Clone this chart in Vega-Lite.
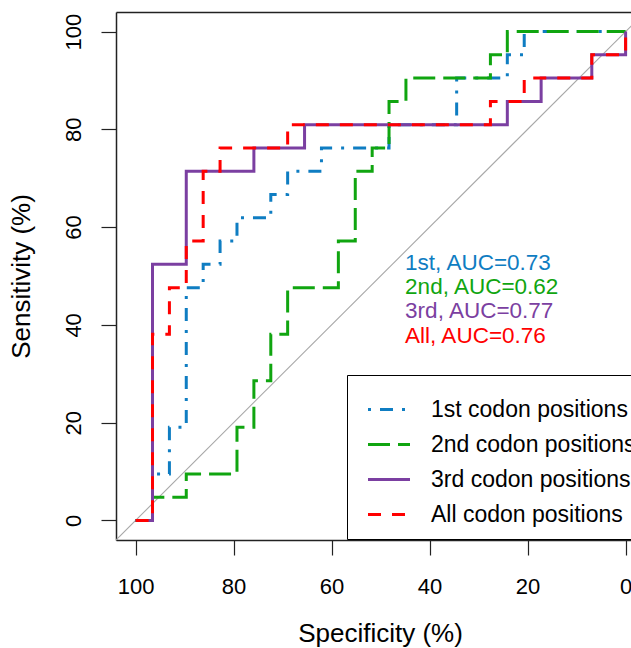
{
  "$schema": "https://vega.github.io/schema/vega-lite/v6.json",
  "width": 515,
  "height": 528,
  "autosize": "none",
  "padding": {"left": 116, "top": 12, "right": 0, "bottom": 108},
  "background": "white",
  "config": {
    "view": {"stroke": null},
    "font": "Liberation Sans",
    "axis": {
      "grid": false,
      "domainColor": "#222222",
      "domainWidth": 1.5,
      "tickColor": "#222222",
      "tickWidth": 1.2,
      "tickSize": 15,
      "labelFont": "Liberation Sans",
      "labelFontSize": 22,
      "labelColor": "black",
      "labelPadding": 21,
      "titleFont": "Liberation Sans",
      "titleFontSize": 26,
      "titleFontWeight": "normal",
      "titleColor": "black"
    }
  },
  "datasets": {
    "diag": [{"sp": 104, "se": -4}, {"sp": -4, "se": 104}],
    "auc": [
      {"s": "1st codon positions", "t": "1st, AUC=0.73", "x": 45, "y": 55},
      {"s": "2nd codon positions", "t": "2nd, AUC=0.62", "x": 45, "y": 50},
      {"s": "3rd codon positions", "t": "3rd, AUC=0.77", "x": 45, "y": 45},
      {"s": "All codon positions", "t": "All, AUC=0.76", "x": 45, "y": 40}
    ],
    "roc": [
      {"s": "1st codon positions", "i": 0, "sp": 100, "se": 0},
      {"s": "1st codon positions", "i": 1, "sp": 96.55, "se": 0},
      {"s": "1st codon positions", "i": 2, "sp": 96.55, "se": 9.52},
      {"s": "1st codon positions", "i": 3, "sp": 93.10, "se": 9.52},
      {"s": "1st codon positions", "i": 4, "sp": 93.10, "se": 19.05},
      {"s": "1st codon positions", "i": 5, "sp": 89.66, "se": 19.05},
      {"s": "1st codon positions", "i": 6, "sp": 89.66, "se": 47.62},
      {"s": "1st codon positions", "i": 7, "sp": 86.21, "se": 47.62},
      {"s": "1st codon positions", "i": 8, "sp": 86.21, "se": 52.38},
      {"s": "1st codon positions", "i": 9, "sp": 82.76, "se": 52.38},
      {"s": "1st codon positions", "i": 10, "sp": 82.76, "se": 57.14},
      {"s": "1st codon positions", "i": 11, "sp": 79.31, "se": 57.14},
      {"s": "1st codon positions", "i": 12, "sp": 79.31, "se": 61.90},
      {"s": "1st codon positions", "i": 13, "sp": 72.41, "se": 61.90},
      {"s": "1st codon positions", "i": 14, "sp": 72.41, "se": 66.67},
      {"s": "1st codon positions", "i": 15, "sp": 68.97, "se": 66.67},
      {"s": "1st codon positions", "i": 16, "sp": 68.97, "se": 71.43},
      {"s": "1st codon positions", "i": 17, "sp": 62.07, "se": 71.43},
      {"s": "1st codon positions", "i": 18, "sp": 62.07, "se": 76.19},
      {"s": "1st codon positions", "i": 19, "sp": 48.28, "se": 76.19},
      {"s": "1st codon positions", "i": 20, "sp": 48.28, "se": 80.95},
      {"s": "1st codon positions", "i": 21, "sp": 34.48, "se": 80.95},
      {"s": "1st codon positions", "i": 22, "sp": 34.48, "se": 90.48},
      {"s": "1st codon positions", "i": 23, "sp": 24.14, "se": 90.48},
      {"s": "1st codon positions", "i": 24, "sp": 24.14, "se": 95.24},
      {"s": "1st codon positions", "i": 25, "sp": 20.69, "se": 95.24},
      {"s": "1st codon positions", "i": 26, "sp": 20.69, "se": 100},
      {"s": "1st codon positions", "i": 27, "sp": 0, "se": 100},

      {"s": "2nd codon positions", "i": 0, "sp": 100, "se": 0},
      {"s": "2nd codon positions", "i": 1, "sp": 96.55, "se": 0},
      {"s": "2nd codon positions", "i": 2, "sp": 96.55, "se": 4.76},
      {"s": "2nd codon positions", "i": 3, "sp": 89.66, "se": 4.76},
      {"s": "2nd codon positions", "i": 4, "sp": 89.66, "se": 9.52},
      {"s": "2nd codon positions", "i": 5, "sp": 79.31, "se": 9.52},
      {"s": "2nd codon positions", "i": 6, "sp": 79.31, "se": 19.05},
      {"s": "2nd codon positions", "i": 7, "sp": 75.86, "se": 19.05},
      {"s": "2nd codon positions", "i": 8, "sp": 75.86, "se": 28.57},
      {"s": "2nd codon positions", "i": 9, "sp": 72.41, "se": 28.57},
      {"s": "2nd codon positions", "i": 10, "sp": 72.41, "se": 38.10},
      {"s": "2nd codon positions", "i": 11, "sp": 68.97, "se": 38.10},
      {"s": "2nd codon positions", "i": 12, "sp": 68.97, "se": 47.62},
      {"s": "2nd codon positions", "i": 13, "sp": 58.62, "se": 47.62},
      {"s": "2nd codon positions", "i": 14, "sp": 58.62, "se": 57.14},
      {"s": "2nd codon positions", "i": 15, "sp": 55.17, "se": 57.14},
      {"s": "2nd codon positions", "i": 16, "sp": 55.17, "se": 71.43},
      {"s": "2nd codon positions", "i": 17, "sp": 51.72, "se": 71.43},
      {"s": "2nd codon positions", "i": 18, "sp": 51.72, "se": 76.19},
      {"s": "2nd codon positions", "i": 19, "sp": 48.28, "se": 76.19},
      {"s": "2nd codon positions", "i": 20, "sp": 48.28, "se": 85.71},
      {"s": "2nd codon positions", "i": 21, "sp": 44.83, "se": 85.71},
      {"s": "2nd codon positions", "i": 22, "sp": 44.83, "se": 90.48},
      {"s": "2nd codon positions", "i": 23, "sp": 27.59, "se": 90.48},
      {"s": "2nd codon positions", "i": 24, "sp": 27.59, "se": 95.24},
      {"s": "2nd codon positions", "i": 25, "sp": 24.14, "se": 95.24},
      {"s": "2nd codon positions", "i": 26, "sp": 24.14, "se": 100},
      {"s": "2nd codon positions", "i": 27, "sp": 0, "se": 100},

      {"s": "3rd codon positions", "i": 0, "sp": 100, "se": 0},
      {"s": "3rd codon positions", "i": 1, "sp": 96.55, "se": 0},
      {"s": "3rd codon positions", "i": 2, "sp": 96.55, "se": 52.38},
      {"s": "3rd codon positions", "i": 3, "sp": 89.66, "se": 52.38},
      {"s": "3rd codon positions", "i": 4, "sp": 89.66, "se": 71.43},
      {"s": "3rd codon positions", "i": 5, "sp": 75.86, "se": 71.43},
      {"s": "3rd codon positions", "i": 6, "sp": 75.86, "se": 76.19},
      {"s": "3rd codon positions", "i": 7, "sp": 65.52, "se": 76.19},
      {"s": "3rd codon positions", "i": 8, "sp": 65.52, "se": 80.95},
      {"s": "3rd codon positions", "i": 9, "sp": 24.14, "se": 80.95},
      {"s": "3rd codon positions", "i": 10, "sp": 24.14, "se": 85.71},
      {"s": "3rd codon positions", "i": 11, "sp": 17.24, "se": 85.71},
      {"s": "3rd codon positions", "i": 12, "sp": 17.24, "se": 90.48},
      {"s": "3rd codon positions", "i": 13, "sp": 6.90, "se": 90.48},
      {"s": "3rd codon positions", "i": 14, "sp": 6.90, "se": 95.24},
      {"s": "3rd codon positions", "i": 15, "sp": 0, "se": 95.24},
      {"s": "3rd codon positions", "i": 16, "sp": 0, "se": 100},

      {"s": "All codon positions", "i": 0, "sp": 100, "se": 0},
      {"s": "All codon positions", "i": 1, "sp": 96.55, "se": 0},
      {"s": "All codon positions", "i": 2, "sp": 96.55, "se": 38.10},
      {"s": "All codon positions", "i": 3, "sp": 93.10, "se": 38.10},
      {"s": "All codon positions", "i": 4, "sp": 93.10, "se": 47.62},
      {"s": "All codon positions", "i": 5, "sp": 89.66, "se": 47.62},
      {"s": "All codon positions", "i": 6, "sp": 89.66, "se": 57.14},
      {"s": "All codon positions", "i": 7, "sp": 86.21, "se": 57.14},
      {"s": "All codon positions", "i": 8, "sp": 86.21, "se": 71.43},
      {"s": "All codon positions", "i": 9, "sp": 82.76, "se": 71.43},
      {"s": "All codon positions", "i": 10, "sp": 82.76, "se": 76.19},
      {"s": "All codon positions", "i": 11, "sp": 68.97, "se": 76.19},
      {"s": "All codon positions", "i": 12, "sp": 68.97, "se": 80.95},
      {"s": "All codon positions", "i": 13, "sp": 27.59, "se": 80.95},
      {"s": "All codon positions", "i": 14, "sp": 27.59, "se": 85.71},
      {"s": "All codon positions", "i": 15, "sp": 20.69, "se": 85.71},
      {"s": "All codon positions", "i": 16, "sp": 20.69, "se": 90.48},
      {"s": "All codon positions", "i": 17, "sp": 6.90, "se": 90.48},
      {"s": "All codon positions", "i": 18, "sp": 6.90, "se": 95.24},
      {"s": "All codon positions", "i": 19, "sp": 0, "se": 95.24},
      {"s": "All codon positions", "i": 20, "sp": 0, "se": 100}
    ]
  },
  "resolve": {"axis": {"x": "independent", "y": "independent"}},
  "layer": [
    {
      "data": {"name": "diag"},
      "mark": {"type": "line", "color": "#A8A8A8", "strokeWidth": 1.1, "clip": true},
      "encoding": {
        "x": {"field": "sp", "type": "quantitative",
              "scale": {"domain": [-1.1, 104], "reverse": true, "nice": false, "zero": false},
              "axis": {"orient": "top", "labels": false, "ticks": false, "title": null, "domain": true}},
        "y": {"field": "se", "type": "quantitative",
              "scale": {"domain": [-4, 104], "nice": false, "zero": false},
              "axis": null}
      }
    },
    {
      "data": {"name": "roc"},
      "mark": {"type": "line", "strokeWidth": 3, "strokeCap": "butt", "strokeJoin": "miter"},
      "encoding": {
        "x": {"field": "sp", "type": "quantitative",
              "scale": {"domain": [-1.1, 104], "reverse": true, "nice": false, "zero": false},
              "axis": {"orient": "bottom", "values": [0, 20, 40, 60, 80, 100], "title": "Specificity (%)",
                       "titleX": 264, "titleY": 101, "titleBaseline": "alphabetic", "titleAlign": "center"}},
        "y": {"field": "se", "type": "quantitative",
              "scale": {"domain": [-4, 104], "nice": false, "zero": false},
              "axis": {"orient": "left", "values": [0, 20, 40, 60, 80, 100], "title": "Sensitivity (%)",
                       "labelAngle": -90, "labelAlign": "center", "labelBaseline": "alphabetic",
                       "titleX": -87, "titleY": 264, "titleAngle": -90, "titleBaseline": "alphabetic", "titleAlign": "center"}},
        "order": {"field": "i", "type": "quantitative"},
        "color": {"field": "s", "type": "nominal",
                  "scale": {"domain": ["1st codon positions", "2nd codon positions", "3rd codon positions", "All codon positions"],
                            "range": ["#0F7DC2", "#10A510", "#7B3FA1", "#FF0000"]},
                  "legend": {"title": null, "orient": "none", "legendX": 231, "legendY": 363,
                             "strokeColor": "black", "fillColor": "white", "padding": 12, "rowPadding": -2.5,
                             "symbolType": "stroke", "symbolSize": 1764, "symbolStrokeWidth": 3, "symbolOffset": 7.5,
                             "labelFont": "Liberation Sans", "labelFontSize": 23, "labelColor": "black",
                             "labelOffset": 19.5, "labelLimit": 400}},
        "strokeDash": {"field": "s", "type": "nominal",
                  "scale": {"domain": ["1st codon positions", "2nd codon positions", "3rd codon positions", "All codon positions"],
                            "range": [[3, 9, 13, 9], [22, 8], [1, 0], [13, 11]]},
                  "legend": {"title": null, "orient": "none", "legendX": 231, "legendY": 363,
                             "strokeColor": "black", "fillColor": "white", "padding": 12, "rowPadding": -2.5,
                             "symbolType": "stroke", "symbolSize": 1764, "symbolStrokeWidth": 3, "symbolOffset": 7.5,
                             "labelFont": "Liberation Sans", "labelFontSize": 23, "labelColor": "black",
                             "labelOffset": 19.5, "labelLimit": 400}}
      }
    },
    {
      "data": {"name": "auc"},
      "mark": {"type": "text", "align": "left", "baseline": "top", "fontSize": 22.5, "font": "Liberation Sans"},
      "encoding": {
        "x": {"field": "x", "type": "quantitative",
              "scale": {"domain": [-1.1, 104], "reverse": true, "nice": false, "zero": false},
              "axis": null},
        "y": {"field": "y", "type": "quantitative",
              "scale": {"domain": [-4, 104], "nice": false, "zero": false},
              "axis": null},
        "text": {"field": "t", "type": "nominal"},
        "color": {"field": "s", "type": "nominal", "legend": null}
      }
    }
  ]
}
